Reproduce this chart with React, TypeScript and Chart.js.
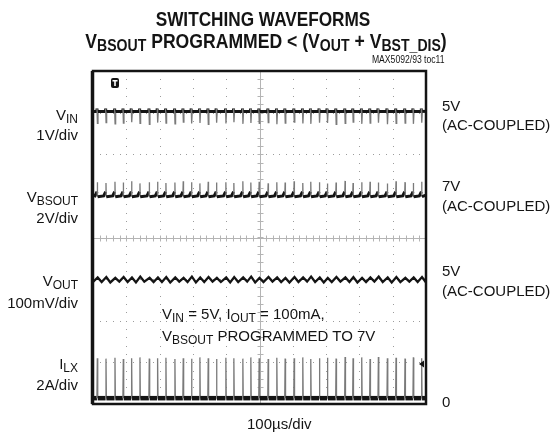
import React, { useEffect, useRef } from "react";
import { Chart, registerables } from "chart.js";

Chart.register(...registerables);

// ---- data (time in µs, amplitude in screen divisions, 0 = bottom) ----
const switchTimesUs = [
  13, 39, 66, 91, 116, 141, 169, 194, 219, 246, 271, 296, 321, 346, 371, 399, 423, 450, 474, 499,
  526, 552, 577, 604, 630, 654, 680, 704, 730, 757, 781, 807, 832, 857, 884, 910, 937, 962, 987,
];
const vinBaseDiv = 7.03;
const vinDipDiv = [
  6.74, 6.76, 6.73, 6.75, 6.77, 6.74, 6.72, 6.76, 6.75, 6.73, 6.77, 6.74, 6.75, 6.72, 6.76, 6.74, 6.77, 6.73, 6.75, 6.74,
  6.76, 6.72, 6.75, 6.77, 6.74, 6.73, 6.76, 6.75, 6.72, 6.74, 6.77, 6.73, 6.75, 6.76, 6.72, 6.74, 6.75, 6.73, 6.76,
];
const vbsoutBaseDiv = 5.02;
const vbsoutPeakDiv = [
  5.33, 5.31, 5.34, 5.32, 5.35, 5.30, 5.33, 5.34, 5.31, 5.32, 5.35, 5.33, 5.30, 5.34, 5.32, 5.33, 5.31, 5.35, 5.32, 5.34,
  5.30, 5.33, 5.32, 5.35, 5.31, 5.34, 5.33, 5.30, 5.32, 5.36, 5.31, 5.33, 5.34, 5.32, 5.30, 5.35, 5.33, 5.31, 5.34,
];
const voutHighDiv = [
  3.04, 3.05, 3.03, 3.05, 3.04, 3.06, 3.03, 3.04, 3.05, 3.04, 3.03, 3.06, 3.04, 3.05, 3.03, 3.04, 3.05, 3.04, 3.06, 3.03,
  3.05, 3.04, 3.03, 3.05, 3.04, 3.06, 3.04, 3.03, 3.05, 3.04, 3.05, 3.03, 3.04, 3.06, 3.04, 3.05, 3.03, 3.04, 3.05,
];
const voutLowDiv = [
  2.93, 2.92, 2.94, 2.93, 2.92, 2.94, 2.93, 2.93, 2.92, 2.94, 2.93, 2.92, 2.93, 2.94, 2.93, 2.92, 2.93, 2.94, 2.92, 2.93,
  2.94, 2.93, 2.92, 2.93, 2.94, 2.93, 2.92, 2.93, 2.94, 2.93, 2.92, 2.93, 2.94, 2.93, 2.92, 2.93, 2.94, 2.93, 2.92,
];
const ilxBaseDiv = 0.14;
const ilxPeakDiv = [
  1.10, 1.09, 1.11, 1.08, 1.10, 1.12, 1.09, 1.10, 1.11, 1.08, 1.10, 1.09, 1.12, 1.10, 1.08, 1.11, 1.10, 1.09, 1.12, 1.10,
  1.08, 1.11, 1.09, 1.10, 1.12, 1.08, 1.10, 1.11, 1.09, 1.13, 1.10, 1.12, 1.08, 1.13, 1.10, 1.11, 1.09, 1.12, 1.10,
];
const xMajorUs = [0, 100, 200, 300, 400, 500, 600, 700, 800, 900, 1000];
const yMajorDiv = [0, 1, 2, 3, 4, 5, 6, 7, 8];
const triggerLevelDiv = 0.96;

// ---- build the point tables the line datasets need ----
type P = { x: number; y: number };
function buildVin(): P[] {
  const pts: P[] = [{ x: 0, y: vinBaseDiv }];
  switchTimesUs.forEach((t, i) => {
    pts.push({ x: t - 2, y: vinBaseDiv }, { x: t - 1, y: vinBaseDiv + 0.07 }, { x: t + 0.3, y: vinDipDiv[i] }, { x: t + 2, y: vinBaseDiv });
  });
  pts.push({ x: 1000, y: vinBaseDiv });
  return pts;
}
function buildVbsout(): P[] {
  const pts: P[] = [{ x: 0, y: vbsoutBaseDiv }];
  switchTimesUs.forEach((t, i) => {
    pts.push(
      { x: t - 7, y: vbsoutBaseDiv - 0.02 },
      { x: t - 0.8, y: vbsoutBaseDiv + 0.08 },
      { x: t, y: vbsoutPeakDiv[i] },
      { x: t + 0.8, y: vbsoutBaseDiv - 0.04 }
    );
  });
  pts.push({ x: 1000, y: vbsoutBaseDiv });
  return pts;
}
function buildVout(): P[] {
  const pts: P[] = [{ x: 0, y: voutLowDiv[0] }];
  switchTimesUs.forEach((t, i) => {
    pts.push({ x: t + 1, y: voutHighDiv[i] }, { x: t + 13, y: voutLowDiv[i] });
  });
  pts.push({ x: 1000, y: voutHighDiv[0] });
  return pts;
}
function buildIlx(): P[] {
  const pts: P[] = [{ x: 0, y: ilxBaseDiv }];
  switchTimesUs.forEach((t, i) => {
    pts.push({ x: t - 1.2, y: ilxBaseDiv }, { x: t, y: ilxPeakDiv[i] }, { x: t + 1.2, y: ilxBaseDiv });
  });
  pts.push({ x: 1000, y: ilxBaseDiv });
  return pts;
}

const FONT = '"Liberation Sans", Arial, Helvetica, sans-serif';
const INK = "#141414";
const SPIKE = "#7a7a7a";

const scopePlugin = {
  id: "scopeFrame",
  beforeDatasetsDraw(chart: any) {
    const { ctx, chartArea: a, scales } = chart;
    const xs = scales.x;
    const ys = scales.y;
    ctx.save();
    // dotted graticule
    ctx.fillStyle = "#9c9c9c";
    xMajorUs.forEach((gx) => {
      if (gx === 0 || gx === 1000 || gx === 500) return;
      const px = Math.round(xs.getPixelForValue(gx));
      for (let v = 0.2; v < 8; v += 0.2) ctx.fillRect(px, Math.round(ys.getPixelForValue(v)), 1, 1);
    });
    yMajorDiv.forEach((gy) => {
      if (gy === 0 || gy === 8 || gy === 4) return;
      const py = Math.round(ys.getPixelForValue(gy));
      for (let u = 20; u < 1000; u += 20) ctx.fillRect(Math.round(xs.getPixelForValue(u)), py, 1, 1);
    });
    // centre axes with minor ticks
    ctx.strokeStyle = "#b4b4b4";
    ctx.lineWidth = 1;
    const cx = Math.round(xs.getPixelForValue(500)) + 0.5;
    const cy = Math.round(ys.getPixelForValue(4)) + 0.5;
    ctx.beginPath();
    ctx.moveTo(cx, a.top);
    ctx.lineTo(cx, a.bottom);
    ctx.moveTo(a.left, cy);
    ctx.lineTo(a.right, cy);
    for (let v = 0.2; v < 8; v += 0.2) {
      const py = Math.round(ys.getPixelForValue(v)) + 0.5;
      ctx.moveTo(cx - 3, py);
      ctx.lineTo(cx + 3, py);
    }
    for (let u = 20; u < 1000; u += 20) {
      const px = Math.round(xs.getPixelForValue(u)) + 0.5;
      ctx.moveTo(px, cy - 3);
      ctx.lineTo(px, cy + 3);
    }
    ctx.stroke();
    ctx.restore();
  },
  afterDatasetsDraw(chart: any) {
    const { ctx, chartArea: a, scales } = chart;
    ctx.save();
    ctx.strokeStyle = INK;
    ctx.lineWidth = 2.5;
    ctx.strokeRect(a.left, a.top, a.right - a.left, a.bottom - a.top);
    ctx.lineWidth = 1.5;
    ctx.beginPath();
    ctx.moveTo(a.left - 1.5, a.top);
    ctx.lineTo(a.left - 1.5, a.bottom);
    ctx.stroke();
    // trigger badge
    const bx = a.left + 18;
    const by = a.top + 7;
    ctx.fillStyle = INK;
    ctx.beginPath();
    ctx.roundRect(bx, by, 8, 10, 2);
    ctx.fill();
    ctx.fillStyle = "#fff";
    ctx.fillRect(bx + 1.5, by + 2, 5, 1.5);
    ctx.fillRect(bx + 3.2, by + 2, 1.6, 6);
    // trigger level arrow
    const ty = scales.y.getPixelForValue(triggerLevelDiv);
    ctx.fillStyle = INK;
    ctx.beginPath();
    ctx.moveTo(a.right - 7, ty);
    ctx.lineTo(a.right - 2, ty - 3.5);
    ctx.lineTo(a.right - 2, ty + 3.5);
    ctx.closePath();
    ctx.fill();
    ctx.restore();
  },
};

function spikeSegments(isSpike: (y0: number, y1: number) => boolean, thick: number) {
  return {
    borderColor: (c: any) => (isSpike(c.p0.parsed.y, c.p1.parsed.y) ? SPIKE : INK),
    borderWidth: (c: any) => (isSpike(c.p0.parsed.y, c.p1.parsed.y) ? 1.3 : thick),
  };
}

type TxtProps = {
  x: number;
  base: number;
  size?: number;
  align?: "left" | "right" | "center";
  bold?: boolean;
  scale?: number;
  children: React.ReactNode;
};
function Txt({ x, base, size = 15, align = "left", bold = false, scale = 1, children }: TxtProps) {
  const style: React.CSSProperties = {
    position: "absolute",
    top: base - 0.8465 * size,
    fontSize: size,
    lineHeight: size + "px",
    fontFamily: FONT,
    fontWeight: bold ? 700 : 400,
    whiteSpace: "nowrap",
    color: INK,
  };
  if (align === "left") {
    style.left = x;
    style.transformOrigin = "left center";
    style.transform = `scaleX(${scale})`;
  } else if (align === "right") {
    style.right = 550 - x;
    style.transformOrigin = "right center";
    style.transform = `scaleX(${scale})`;
  } else {
    style.left = x;
    style.transformOrigin = "center center";
    style.transform = `translateX(-50%) scaleX(${scale})`;
  }
  return <div style={style}>{children}</div>;
}
function Sub({ children, size = 12, dy = 3 }: { children: React.ReactNode; size?: number; dy?: number }) {
  return <span style={{ fontSize: size, position: "relative", top: dy }}>{children}</span>;
}

export default function App() {
  const ref = useRef<HTMLCanvasElement | null>(null);
  useEffect(() => {
    if (!ref.current) return;
    const chart = new Chart(ref.current, {
      type: "line",
      data: {
        datasets: [
          {
            label: "VIN",
            data: buildVin(),
            pointRadius: 0,
            borderColor: INK,
            segment: spikeSegments((a, b) => Math.min(a, b) < 6.92, 3),
          },
          {
            label: "VBSOUT",
            data: buildVbsout(),
            pointRadius: 0,
            borderColor: INK,
            segment: spikeSegments((a, b) => Math.max(a, b) > 5.15, 3),
          },
          {
            label: "VOUT",
            data: buildVout(),
            pointRadius: 0,
            borderColor: INK,
            borderWidth: 2.3,
          },
          {
            label: "ILX",
            data: buildIlx(),
            pointRadius: 0,
            borderColor: INK,
            segment: spikeSegments((a, b) => Math.max(a, b) > 0.3, 4.5),
          },
        ] as any,
      },
      options: {
        animation: false,
        responsive: false,
        parsing: false,
        layout: { padding: { left: 93, top: 71, right: 124, bottom: 35 } },
        plugins: { legend: { display: false }, tooltip: { enabled: false } },
        scales: {
          x: { type: "linear", min: 0, max: 1000, display: false },
          y: { type: "linear", min: 0, max: 8, display: false },
        },
      },
      plugins: [scopePlugin],
    });
    return () => chart.destroy();
  }, []);

  return (
    <div style={{ position: "absolute", left: 0, top: 0, width: 550, height: 439, background: "#fff", overflow: "hidden" }}>
      <canvas ref={ref} width={550} height={439} style={{ position: "absolute", left: 0, top: 0, width: 550, height: 439 }} />
      <Txt x={263} base={26} size={20} bold align="center" scale={0.86}>
        SWITCHING WAVEFORMS
      </Txt>
      <Txt x={266} base={47.5} size={20} bold align="center" scale={0.88}>
        V<Sub size={16} dy={3}>BSOUT</Sub> PROGRAMMED &lt; (V<Sub size={16} dy={3}>OUT</Sub> + V<Sub size={16} dy={3}>BST_DIS</Sub>)
      </Txt>
      <Txt x={445} base={63.3} size={10.5} align="right" scale={0.82}>
        MAX5092/93 toc11
      </Txt>

      <Txt x={78} base={120} align="right">
        V<Sub>IN</Sub>
      </Txt>
      <Txt x={78} base={140} align="right">1V/div</Txt>
      <Txt x={78} base={201.5} align="right">
        V<Sub>BSOUT</Sub>
      </Txt>
      <Txt x={78} base={222.5} align="right">2V/div</Txt>
      <Txt x={78} base={286} align="right">
        V<Sub>OUT</Sub>
      </Txt>
      <Txt x={78} base={307.5} align="right">100mV/div</Txt>
      <Txt x={78} base={368.5} align="right">
        I<Sub>LX</Sub>
      </Txt>
      <Txt x={78} base={389.5} align="right">2A/div</Txt>

      <Txt x={442} base={110.5}>5V</Txt>
      <Txt x={442} base={129.5}>(AC-COUPLED)</Txt>
      <Txt x={442} base={190.5}>7V</Txt>
      <Txt x={442} base={210.5}>(AC-COUPLED)</Txt>
      <Txt x={442} base={276}>5V</Txt>
      <Txt x={442} base={295.5}>(AC-COUPLED)</Txt>
      <Txt x={442} base={407}>0</Txt>

      <Txt x={162} base={319}>
        V<Sub>IN</Sub> = 5V, I<Sub>OUT</Sub> = 100mA,
      </Txt>
      <Txt x={162} base={340.5}>
        V<Sub>BSOUT</Sub> PROGRAMMED TO 7V
      </Txt>

      <Txt x={247} base={428.5}>100µs/div</Txt>
    </div>
  );
}
